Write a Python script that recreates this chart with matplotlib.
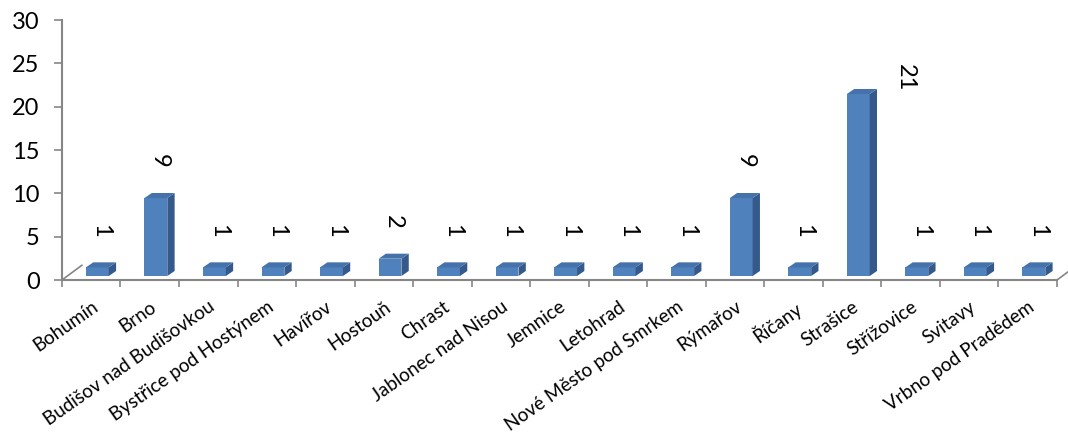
import matplotlib
matplotlib.use("Agg")
import matplotlib.pyplot as plt
from matplotlib.patches import Polygon

towns = ["Bohumín", "Brno", "Budišov nad Budišovkou", "Bystřice pod Hostýnem",
         "Havířov", "Hostouň", "Chrast", "Jablonec nad Nisou", "Jemnice",
         "Letohrad", "Nové Město pod Smrkem", "Rýmařov", "Říčany", "Strašice",
         "Střížovice", "Svitavy", "Vrbno pod Pradědem"]
counts = [1, 9, 1, 1, 1, 2, 1, 1, 1, 1, 1, 9, 1, 21, 1, 1, 1]
y_ticks = [0, 5, 10, 15, 20, 25, 30]

FRONT = "#4F81BD"
SIDE = "#35598A"
TOP = "#4572AA"
AXIS = "#868686"


def draw_bars(ax):
    width = 0.39
    shift = 0.105   # front face sits a bit right of the category centre
    floor = 0.46    # bars stand a bit above the axis line (3d floor)
    dx, dy = 0.125, 0.58  # depth of the fake 3d boxes

    xs = [i + shift for i in range(len(counts))]
    ax.bar(xs, counts, width=width, bottom=floor, color=FRONT, zorder=3)

    for x, v in zip(xs, counts):
        left, right = x - width / 2, x + width / 2
        top = v + floor
        side = Polygon([(right, floor), (right + dx, floor + dy),
                        (right + dx, top + dy), (right, top)],
                       closed=True, facecolor=SIDE, edgecolor="none", zorder=3)
        lid = Polygon([(left, top), (left + dx, top + dy),
                       (right + dx, top + dy), (right, top)],
                      closed=True, facecolor=TOP, edgecolor="none", zorder=3)
        ax.add_patch(side)
        ax.add_patch(lid)

        # value labels, rotated; the tallest one goes beside its bar
        if v == max(counts):
            ax.text(x + dx / 2 + 0.74, v + 0.8, str(v), rotation=-90,
                    ha="center", va="bottom", fontsize=17)
        else:
            ax.text(x + dx / 2, v + 3.9, str(v), rotation=-90,
                    ha="center", va="bottom", fontsize=17)


def main():
    plt.rcParams["font.family"] = ["Lato", "DejaVu Sans"]
    fig = plt.figure(figsize=(10.68, 4.38), dpi=100)
    ax = fig.add_axes([0.058, 0.3607, 0.9317, 0.5936])

    draw_bars(ax)

    n = len(counts)
    ax.set_xlim(-0.5, n - 0.5)
    ax.set_ylim(y_ticks[0], y_ticks[-1])
    ax.set_yticks(y_ticks)
    ax.tick_params(axis="y", labelsize=17, length=6, width=1.2,
                   color=AXIS, pad=10)

    ax.set_xticks(range(n))
    ax.set_xticklabels(towns, rotation=35, ha="right", rotation_mode="anchor",
                       fontsize=13.6)
    ax.set_xticks([i - 0.5 for i in range(n + 1)], minor=True)
    ax.tick_params(axis="x", which="major", length=0, pad=13)
    ax.tick_params(axis="x", which="minor", length=5, width=1.2, color=AXIS)

    for s in ["top", "right"]:
        ax.spines[s].set_visible(False)
    for s in ["left", "bottom"]:
        ax.spines[s].set_color(AXIS)
        ax.spines[s].set_linewidth(1.5)

    # edges of the 3d floor
    ax.plot([-0.5, -0.16], [0, 1.7], color=AXIS, lw=1.2, clip_on=False)
    ax.plot([n - 0.5, n - 0.16], [0, 1.7], color=AXIS, lw=1.2, clip_on=False)

    fig.savefig("out.png", dpi=100)


if __name__ == '__main__':
    main()
